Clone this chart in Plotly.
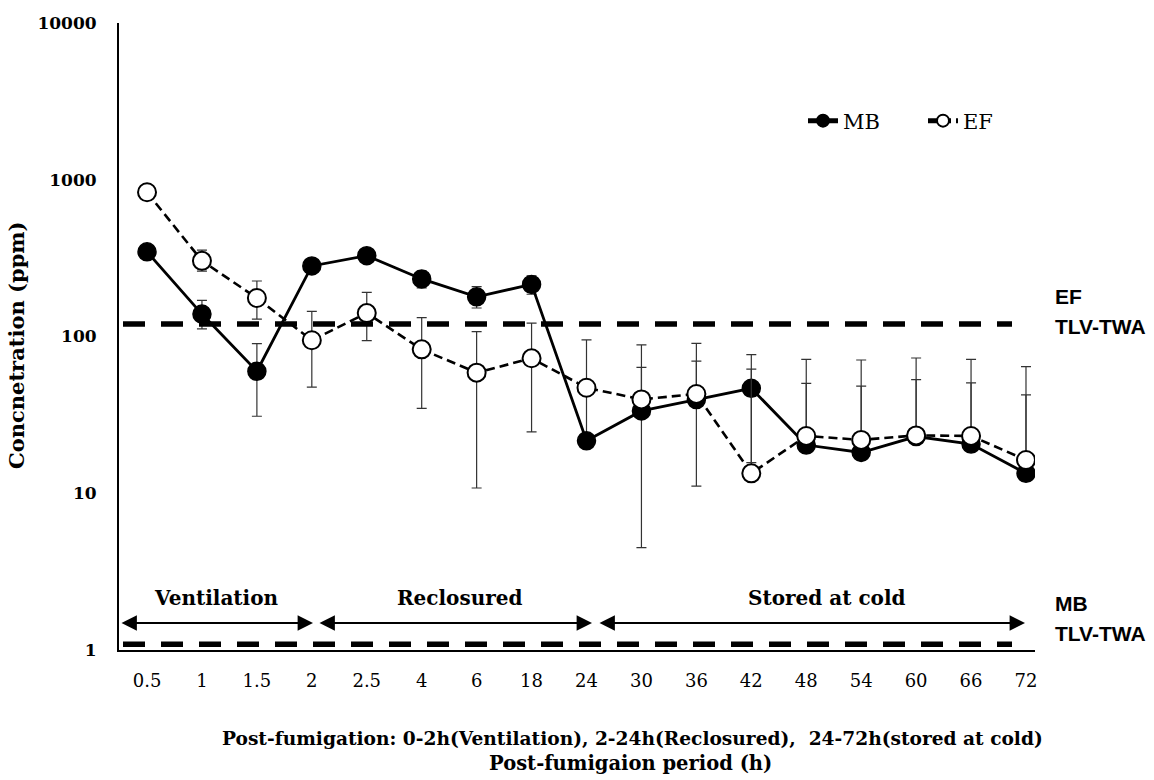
import plotly.graph_objects as go

# ---------------- data ----------------
hours = ["0.5", "1", "1.5", "2", "2.5", "4", "6", "18", "24",
         "30", "36", "42", "48", "54", "60", "66", "72"]

mb = [347, 139, 60, 282, 328, 233, 179, 215, 21.6,
      33.5, 39.6, 46.7, 20.3, 18.2, 23.0, 20.6, 13.4]
mb_err_plus = [29, 31, 30, 29, 29, 29, 29, 29, 30,
               30, 30, 30, 30, 30, 30, 30, 29]
mb_err_minus = [29, 27, 29, 29, 29, 29, 27, 29, 0,
                29, 28.5, 31, 0, 0, 0, 0, 0]

ef = [832, 304, 176, 94.6, 141, 82.8, 58.8, 72.6, 47.1,
      39.7, 43.0, 13.4, 23.2, 21.9, 23.4, 23.2, 16.3]
ef_err_plus = [48, 52, 50, 50, 50, 49, 48.5, 49, 48,
               48.6, 47.5, 48.6, 48.3, 48.9, 49.5, 48.3, 47.9]
ef_err_minus = [48, 43, 47, 47, 47, 48, 48, 48, 0,
                0, 0, 0, 0, 0, 0, 0, 0]

ef_tlv = 120      # EF TLV-TWA (ppm), as drawn
mb_tlv = 1.09     # MB TLV-TWA (ppm), as drawn

y_tickvals = [1, 10, 100, 1000, 10000]
y_ticktext = ["1", "10", "100", "1000", "10000"]

periods = ["Ventilation", "Reclosured", "Stored at cold"]

# ---------------- layout constants ----------------
W, H = 1154, 780
L, R, T, B = 119, 119, 23, 130
PW, PH = W - L - R, H - T - B
XR = [-0.51, 16.164]

SERIF = "DejaVu Serif"
SANS = "Liberation Sans"


def px_to_paper_x(px):
    return (px - L) / PW


def px_to_paper_y(py):
    return (T + PH - py) / PH


def px_to_idx(px):
    return XR[0] + (px - L) / PW * (XR[1] - XR[0])


fig = go.Figure()

# TLV lines (secondary, linear x axis overlaying the category axis)
tlv_x = [px_to_idx(123), px_to_idx(1012)]
for val in (ef_tlv, mb_tlv):
    fig.add_trace(go.Scatter(
        x=tlv_x, y=[val, val], xaxis="x2", yaxis="y", mode="lines",
        line=dict(color="black", width=5.5, dash="22px,16px"),
        showlegend=False, hoverinfo="skip"))

fig.add_trace(go.Scatter(
    x=hours, y=mb, name="MB", mode="lines+markers",
    line=dict(color="black", width=2.8),
    marker=dict(symbol="circle", size=18, color="black",
                line=dict(color="black", width=1.5)),
    error_y=dict(type="data", symmetric=False, array=mb_err_plus,
                 arrayminus=mb_err_minus, color="#333333",
                 thickness=1.2, width=5),
))

fig.add_trace(go.Scatter(
    x=hours, y=ef, name="EF", mode="lines+markers",
    line=dict(color="black", width=2.6, dash="9px,5px"),
    marker=dict(symbol="circle", size=18, color="white",
                line=dict(color="black", width=2)),
    error_y=dict(type="data", symmetric=False, array=ef_err_plus,
                 arrayminus=ef_err_minus, color="#333333",
                 thickness=1.2, width=5),
))

annotations = []

# period arrows and labels
arrow_px = [(120, 313), (318, 592), (598, 1025)]
label_px = [216, 460, 827]
for (a, b), lx, txt in zip(arrow_px, label_px, periods):
    annotations.append(dict(
        xref="x2", yref="paper", x=px_to_idx(b), y=px_to_paper_y(623),
        axref="x2", ayref="pixel", ax=px_to_idx(a), ay=0,
        text="", showarrow=True, arrowside="end+start",
        arrowhead=2, startarrowhead=2, arrowsize=1.4, startarrowsize=1.4,
        arrowwidth=2.2, arrowcolor="black", standoff=0, startstandoff=0))
    annotations.append(dict(
        xref="paper", yref="paper", x=px_to_paper_x(lx), y=px_to_paper_y(598),
        text=f"<b>{txt}</b>", showarrow=False, xanchor="center", yanchor="middle",
        font=dict(family=SERIF, size=20, color="black")))

# TLV labels on the right
for txt, py in (("EF", 296), ("TLV-TWA", 326), ("MB", 603), ("TLV-TWA", 633)):
    annotations.append(dict(
        xref="paper", yref="paper", x=px_to_paper_x(1053), y=px_to_paper_y(py),
        text=f"<b>{txt}</b>", showarrow=False, xanchor="left", yanchor="middle",
        font=dict(family=SANS, size=21, color="black")))

# axis titles
annotations.append(dict(
    xref="paper", yref="paper", x=px_to_paper_x(17), y=px_to_paper_y(345),
    text="<b>Concnetration (ppm)</b>", showarrow=False, textangle=-90,
    xanchor="center", yanchor="middle",
    font=dict(family=SERIF, size=21, color="black")))
annotations.append(dict(
    xref="paper", yref="paper", x=px_to_paper_x(632), y=px_to_paper_y(738),
    text="<b>Post-fumigation: 0-2h(Ventilation), 2-24h(Reclosured),  24-72h(stored at cold)</b>",
    showarrow=False, xanchor="center", yanchor="middle",
    font=dict(family=SERIF, size=18.6, color="black")))
annotations.append(dict(
    xref="paper", yref="paper", x=px_to_paper_x(630), y=px_to_paper_y(763),
    text="<b>Post-fumigaion period (h)</b>",
    showarrow=False, xanchor="center", yanchor="middle",
    font=dict(family=SERIF, size=19.5, color="black")))

fig.update_layout(
    width=W, height=H,
    margin=dict(l=L, r=R, t=T, b=B, pad=0, autoexpand=False),
    paper_bgcolor="white", plot_bgcolor="white",
    font=dict(family=SERIF, size=18, color="black"),
    showlegend=True,
    legend=dict(orientation="h", xref="paper", yref="paper",
                x=px_to_paper_x(803), y=px_to_paper_y(121),
                xanchor="left", yanchor="middle", entrywidth=75,
                font=dict(family=SERIF, size=21, color="black"),
                bgcolor="rgba(0,0,0,0)", itemsizing="constant"),
    xaxis=dict(type="category", categoryorder="array", categoryarray=hours,
               range=XR, showline=True, linecolor="black", linewidth=2,
               ticks="", showgrid=False, zeroline=False,
               tickfont=dict(family=SERIF, size=18, color="black"),
               ticklabelstandoff=13),
    xaxis2=dict(type="linear", overlaying="x", range=XR, visible=False),
    yaxis=dict(type="log", range=[0, 4], showline=True, linecolor="black",
               linewidth=2, ticks="", showgrid=False, zeroline=False,
               tickvals=y_tickvals,
               ticktext=[f"<b>{t}</b>" for t in y_ticktext],
               tickfont=dict(family=SERIF, size=17, color="black"),
               ticklabelstandoff=17),
    annotations=annotations,
)

fig.write_html("out.html")
